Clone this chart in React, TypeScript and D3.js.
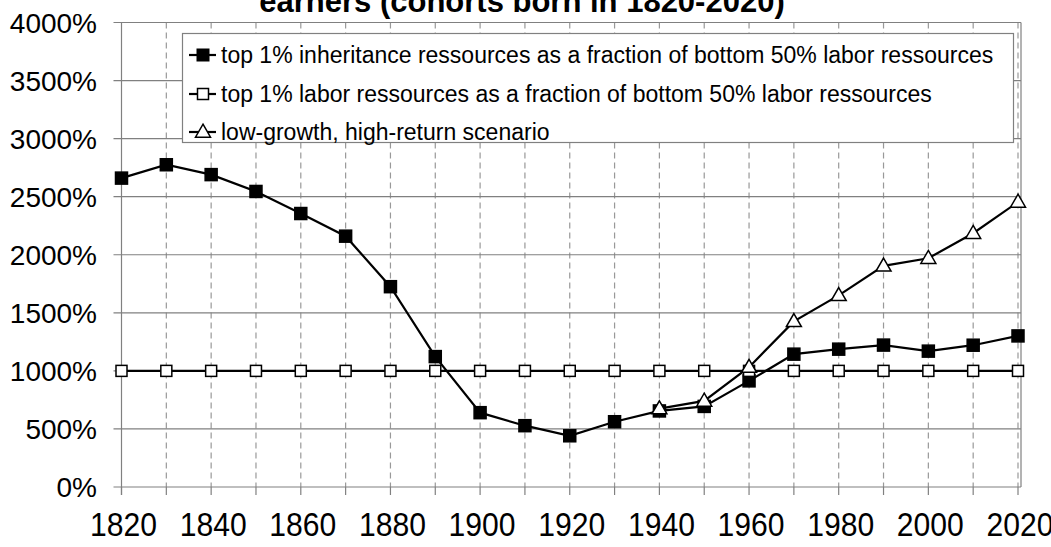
import React, { useEffect, useRef } from 'react';
import * as d3 from 'd3';

// cohorts (every 10 years)
const years = [1820, 1830, 1840, 1850, 1860, 1870, 1880, 1890, 1900, 1910, 1920, 1930, 1940, 1950, 1960, 1970, 1980, 1990, 2000, 2010, 2020];
const inheritanceShare = [2660, 2775, 2690, 2545, 2355, 2160, 1725, 1123, 640, 528, 441, 562, 655, 694, 914, 1144, 1187, 1222, 1170, 1221, 1301];
const laborShare = [1000, 1000, 1000, 1000, 1000, 1000, 1000, 1000, 1000, 1000, 1000, 1000, 1000, 1000, 1000, 1000, 1000, 1000, 1000, 1000, 1000];
const scenarioYears = [1940, 1950, 1960, 1970, 1980, 1990, 2000, 2010, 2020];
const scenarioShare = [675, 741, 1032, 1426, 1650, 1904, 1970, 2185, 2454];

const yTicks = [0, 500, 1000, 1500, 2000, 2500, 3000, 3500, 4000];
const xLabels = [1820, 1840, 1860, 1880, 1900, 1920, 1940, 1960, 1980, 2000, 2020];

const legendLabels = [
  'top 1% inheritance ressources as a fraction of bottom 50% labor ressources',
  'top 1% labor ressources as a fraction of bottom 50% labor ressources',
  'low-growth, high-return scenario',
];

const FONT = '"Liberation Sans", Arial, sans-serif';

export default function App() {
  const svgRef = useRef<SVGSVGElement>(null);

  useEffect(() => {
    if (!svgRef.current) return;
    const svg = d3.select(svgRef.current);
    svg.selectAll('*').remove();

    const left = 121.5;
    const right = 1021;
    const x = d3.scaleLinear().domain([1820, 2020]).range([left, 1018]);
    const y = d3.scaleLinear().domain([0, 4000]).range([487, 22.5]);

    // title (first line is off the top of the picture)
    svg.append('text')
      .attr('x', 522)
      .attr('y', 12)
      .attr('text-anchor', 'middle')
      .attr('font-family', FONT)
      .attr('font-weight', 'bold')
      .attr('font-size', 31)
      .text('earners (cohorts born in 1820-2020)');

    // dashed verticals
    svg.append('g')
      .selectAll('line')
      .data(years.slice(1))
      .enter()
      .append('line')
      .attr('x1', d => x(d))
      .attr('x2', d => x(d))
      .attr('y1', y(4000))
      .attr('y2', y(0))
      .attr('stroke', '#999')
      .attr('stroke-width', 1.2)
      .attr('stroke-dasharray', '6,4');

    // horizontal grid + y ticks
    svg.append('g')
      .selectAll('line')
      .data(yTicks)
      .enter()
      .append('line')
      .attr('x1', left - 8)
      .attr('x2', right)
      .attr('y1', d => y(d))
      .attr('y2', d => y(d))
      .attr('stroke', '#808080')
      .attr('stroke-width', 1.2);

    // axes / border
    svg.append('line')
      .attr('x1', left).attr('x2', left)
      .attr('y1', y(4000)).attr('y2', y(0) + 8)
      .attr('stroke', '#808080').attr('stroke-width', 1.2);
    svg.append('line')
      .attr('x1', right).attr('x2', right)
      .attr('y1', y(4000)).attr('y2', y(0))
      .attr('stroke', '#808080').attr('stroke-width', 1.2);

    // category ticks below axis
    svg.append('g')
      .selectAll('line')
      .data(years)
      .enter()
      .append('line')
      .attr('x1', d => x(d))
      .attr('x2', d => x(d))
      .attr('y1', y(0))
      .attr('y2', y(0) + 8)
      .attr('stroke', '#808080')
      .attr('stroke-width', 1.2);

    // y labels
    svg.append('g')
      .selectAll('text')
      .data(yTicks)
      .enter()
      .append('text')
      .attr('x', 97)
      .attr('y', d => y(d))
      .attr('dy', '0.36em')
      .attr('text-anchor', 'end')
      .attr('font-family', FONT)
      .attr('font-size', 28)
      .text(d => `${d}%`);

    // x labels (narrow, tall digits as in the original)
    svg.append('g')
      .selectAll('text')
      .data(xLabels)
      .enter()
      .append('text')
      .attr('x', d => x(d) + 2)
      .attr('y', 536)
      .attr('text-anchor', 'middle')
      .attr('font-family', FONT)
      .attr('font-size', 33)
      .attr('textLength', 67)
      .attr('lengthAdjust', 'spacingAndGlyphs')
      .text(d => d);

    const line = d3.line<[number, number]>().x(d => x(d[0])).y(d => y(d[1]));

    const drawSquares = (g: d3.Selection<SVGGElement, unknown, null, undefined>, pts: [number, number][], size: number, fill: string) => {
      g.selectAll('rect')
        .data(pts)
        .enter()
        .append('rect')
        .attr('x', d => x(d[0]) - size / 2)
        .attr('y', d => y(d[1]) - size / 2)
        .attr('width', size)
        .attr('height', size)
        .attr('fill', fill)
        .attr('stroke', '#000')
        .attr('stroke-width', 1.5);
    };

    const triPath = (cx: number, cy: number) => {
      const h = 13;
      const w = 15;
      return `M${cx},${cy - h * 0.6}L${cx + w / 2},${cy + h * 0.4}L${cx - w / 2},${cy + h * 0.4}Z`;
    };

    // series 1: inheritance
    const s1: [number, number][] = years.map((yr, i) => [yr, inheritanceShare[i]]);
    const g1 = svg.append('g');
    g1.append('path').attr('d', line(s1)).attr('fill', 'none').attr('stroke', '#000').attr('stroke-width', 2.2);
    drawSquares(g1, s1, 12, '#000');

    // series 2: labor
    const s2: [number, number][] = years.map((yr, i) => [yr, laborShare[i]]);
    const g2 = svg.append('g');
    g2.append('path').attr('d', line(s2)).attr('fill', 'none').attr('stroke', '#000').attr('stroke-width', 2.2);
    drawSquares(g2, s2, 11, '#fff');

    // series 3: scenario
    const s3: [number, number][] = scenarioYears.map((yr, i) => [yr, scenarioShare[i]]);
    const g3 = svg.append('g');
    g3.append('path').attr('d', line(s3)).attr('fill', 'none').attr('stroke', '#000').attr('stroke-width', 2.2);
    g3.selectAll('path.tri')
      .data(s3)
      .enter()
      .append('path')
      .attr('class', 'tri')
      .attr('d', d => triPath(x(d[0]), y(d[1])))
      .attr('fill', '#fff')
      .attr('stroke', '#000')
      .attr('stroke-width', 1.5);

    // legend
    const legend = svg.append('g');
    legend.append('rect')
      .attr('x', 182.5)
      .attr('y', 33.5)
      .attr('width', 831)
      .attr('height', 109)
      .attr('fill', '#fff')
      .attr('stroke', '#808080')
      .attr('stroke-width', 1.2);

    const rowY = [55, 94, 132];
    legendLabels.forEach((label, i) => {
      const cy = rowY[i];
      legend.append('line')
        .attr('x1', 189).attr('x2', 216)
        .attr('y1', cy).attr('y2', cy)
        .attr('stroke', '#000').attr('stroke-width', 2.2);
      if (i === 0) {
        legend.append('rect').attr('x', 197).attr('y', cy - 6).attr('width', 12).attr('height', 12)
          .attr('fill', '#000').attr('stroke', '#000').attr('stroke-width', 1);
      } else if (i === 1) {
        legend.append('rect').attr('x', 197.5).attr('y', cy - 5.5).attr('width', 11).attr('height', 11)
          .attr('fill', '#fff').attr('stroke', '#000').attr('stroke-width', 1.5);
      } else {
        legend.append('path').attr('d', triPath(203, cy)).attr('fill', '#fff')
          .attr('stroke', '#000').attr('stroke-width', 1.5);
      }
      legend.append('text')
        .attr('x', 221)
        .attr('y', cy)
        .attr('dy', '0.35em')
        .attr('font-family', FONT)
        .attr('font-size', 23)
        .text(label);
    });
  }, []);

  return (
    <svg
      ref={svgRef}
      width={1051}
      height={547}
      viewBox="0 0 1051 547"
      style={{ position: 'absolute', left: 0, top: 0, background: '#fff' }}
    />
  );
}
